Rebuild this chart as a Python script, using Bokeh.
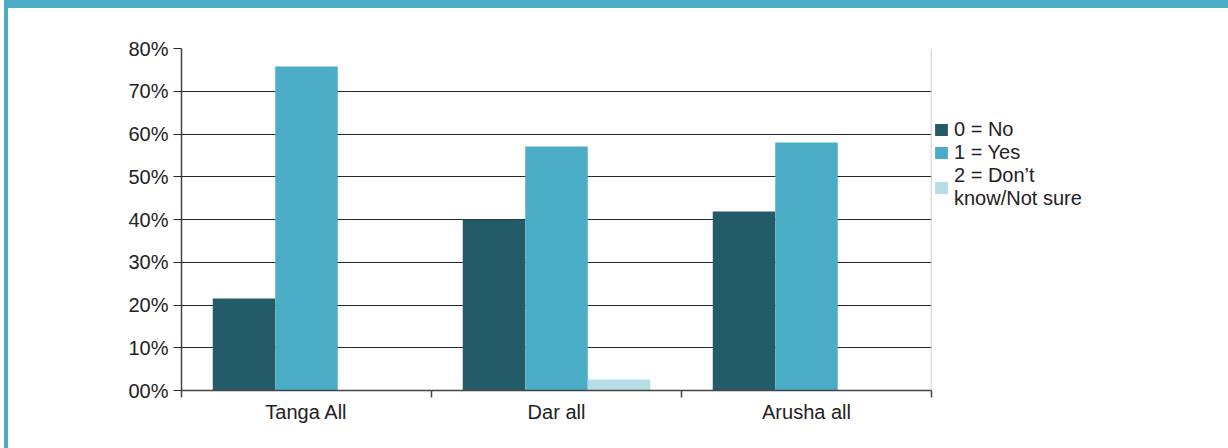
import numpy as np
from bokeh.plotting import figure
from bokeh.models import (ColumnDataSource, FixedTicker, Legend, LegendItem, Span, Range1d)
from bokeh.embed import file_html
from bokeh.resources import INLINE

categories = ["Tanga All", "Dar all", "Arusha all"]
series = ["0 = No", "1 = Yes", "2 = Don\u2019t\nknow/Not sure"]
no_vals = [21.5, 40.0, 41.9]
yes_vals = [75.8, 57.1, 58.0]
dk_vals = [0.0, 2.6, 0.0]
y_ticks = [0, 10, 20, 30, 40, 50, 60, 70, 80]
y_tick_labels = ["00%", "10%", "20%", "30%", "40%", "50%", "60%", "70%", "80%"]

colors = ["#235B69", "#4BACC6", "#B6DDE8"]
FONT = "Liberation Sans"
TEXT = "#222222"
FS = "20px"

p = figure(frame_width=750, frame_height=342, output_backend="svg", toolbar_location=None,
           x_range=Range1d(0, len(categories)), y_range=Range1d(0, 80),
           min_border_left=173, min_border_right=10, min_border_top=40, min_border_bottom=58)
p.styles = {"border-top": "8px solid #4BACC6", "border-left": "4px solid #4BACC6",
            "margin-left": "4px"}
p.outline_line_color = None
p.background_fill_color = "white"
p.border_fill_color = "white"

centers = np.arange(len(categories)) + 0.5
offsets = [-0.25, 0.0, 0.25]
renderers = []
for vals, off, col in zip([no_vals, yes_vals, dk_vals], offsets, colors):
    src = ColumnDataSource(dict(x=centers + off, top=vals))
    r = p.vbar(x="x", top="top", bottom=0, width=0.25, source=src,
               fill_color=col, line_color=None)
    renderers.append(r)

# grid
p.xgrid.grid_line_color = None
p.ygrid.grid_line_color = "#262626"
p.ygrid.grid_line_width = 1.2

# right edge
p.add_layout(Span(location=len(categories), dimension="height", line_color="#BFBFBF", line_width=1.5))

# y axis
p.yaxis.ticker = FixedTicker(ticks=y_ticks)
p.yaxis.major_label_overrides = {t: l for t, l in zip(y_ticks, y_tick_labels)}
p.yaxis.axis_line_color = "#444444"
p.yaxis.axis_line_width = 1.5
p.yaxis.major_tick_line_color = "#2a2a2a"
p.yaxis.major_tick_out = 8
p.yaxis.major_tick_in = 0
p.yaxis.minor_tick_line_color = None
p.yaxis.major_label_standoff = 5
p.yaxis.major_label_text_font = FONT
p.yaxis.major_label_text_font_size = FS
p.yaxis.major_label_text_color = TEXT

# x axis
p.xaxis.ticker = FixedTicker(ticks=list(centers), minor_ticks=list(range(len(categories) + 1)))
p.xaxis.major_label_overrides = {float(c): n for c, n in zip(centers, categories)}
p.xaxis.axis_line_color = "#444444"
p.xaxis.axis_line_width = 1.5
p.xaxis.major_tick_line_color = None
p.xaxis.major_tick_out = 0
p.xaxis.major_tick_in = 0
p.xaxis.minor_tick_line_color = "#444444"
p.xaxis.minor_tick_line_width = 1.5
p.xaxis.minor_tick_out = 7
p.xaxis.minor_tick_in = 0
p.xaxis.major_label_standoff = 3
p.xaxis.major_label_text_font = FONT
p.xaxis.major_label_text_font_size = FS
p.xaxis.major_label_text_color = TEXT

legend = Legend(items=[LegendItem(label=s, renderers=[r]) for s, r in zip(series, renderers)],
                location=(2, 180))
legend.label_text_font = FONT
legend.label_text_font_size = FS
legend.label_text_color = TEXT
legend.label_text_line_height = 1.1
legend.glyph_width = 16
legend.glyph_height = 15
legend.label_standoff = 5
legend.label_height = 21
legend.spacing = 0
legend.padding = 0
legend.margin = 0
legend.border_line_color = None
legend.background_fill_alpha = 0
p.add_layout(legend, "right")

open("out.html", "w").write(file_html(p, INLINE))
